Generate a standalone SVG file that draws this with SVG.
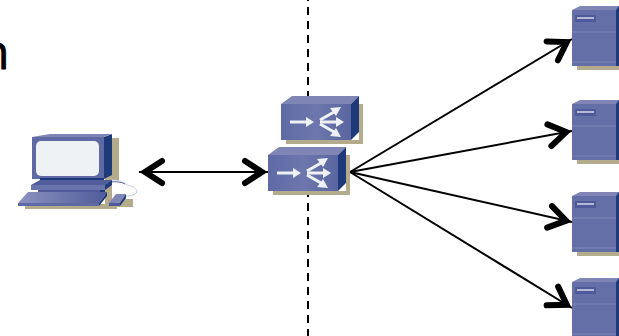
<svg xmlns="http://www.w3.org/2000/svg" width="619" height="336" viewBox="0 0 619 336">
<style>
.shadow{fill:#b3ab8c}
.top{fill:#7f86b5}
.side{fill:#1f3a78}
.front{fill:#646fa8}
.line{stroke:#000;stroke-width:2;fill:none}
.pale{fill:#eef2f5}
.ar{stroke:#eef2f5;stroke-width:3;fill:none}
text{font-family:"Open Sans","Liberation Sans",sans-serif;font-size:48px;fill:#000;stroke:#000;stroke-width:.8}
</style>
<defs>
<linearGradient id="gf" x1="0" y1="0" x2="1" y2="0"><stop offset="0" stop-color="#5f6aa5"/><stop offset=".5" stop-color="#6d77ad"/><stop offset="1" stop-color="#5a66a0"/></linearGradient>
<linearGradient id="gk" x1="0" y1="0" x2="1" y2="0"><stop offset="0" stop-color="#8c93c0"/><stop offset="1" stop-color="#4f5b99"/></linearGradient>
<marker id="head" markerUnits="userSpaceOnUse" markerWidth="40" markerHeight="40" refX="34" refY="20" orient="auto-start-reverse" viewBox="0 0 40 40">
<path d="M11 9L28 20L11 31" fill="none" stroke="#000" stroke-width="6" stroke-linecap="round" stroke-linejoin="miter"/>
</marker>
<g id="srv">
<path class="shadow" d="M5 60H47V64H5Z"/>
<path class="top" d="M0 4L8 0H47V4Z"/>
<path class="side" d="M44 4L47 0V60H44Z"/>
<rect class="front" x="0" y="4" width="44" height="56"/>
<path d="M0 26H44" stroke="#8088b8" stroke-width="1"/>
<path d="M0 56H44" stroke="#7d85b6" stroke-width="1"/>
<rect x="3" y="9" width="21" height="7" fill="#4f5b99"/>
<rect x="5" y="11" width="17" height="2" fill="#b4b9d8"/>
</g>
<g id="sw">
<path class="shadow" d="M5 44V48H82V8H78V44Z"/>
<path class="top" d="M0 8L11 0H78L70 8Z"/>
<path class="side" d="M70 8L78 0V36L70 44Z"/>
<rect x="0" y="8" width="70" height="36" fill="url(#gf)"/>
<path class="ar" d="M9 26H27"/>
<path d="M25 21L33 26L25 31Z" class="pale"/>
<path class="ar" d="M39 26H57"/>
<path d="M55 21L63 26L55 31Z" class="pale"/>
<path class="ar" d="M39 24L53 16"/>
<path d="M49 12L60 11L55 20Z" class="pale"/>
<path class="ar" d="M39 28L53 36"/>
<path d="M55 32L60 41L49 40Z" class="pale"/>
</g>
</defs>
<rect width="619" height="336" fill="#fff"/>
<text id="label" x="-20" y="69">n</text>
<path d="M308 0V336" stroke="#000" stroke-width="2" stroke-dasharray="8 6" stroke-dashoffset="7"/>
<g id="connectors">
<path class="line" d="M139 172H268" marker-start="url(#head)" marker-end="url(#head)"/>
<path class="line" d="M350 172L572 39" marker-end="url(#head)"/>
<path class="line" d="M350 172L572 131" marker-end="url(#head)"/>
<path class="line" d="M350 172L572 222" marker-end="url(#head)"/>
<path class="line" d="M350 172L572 308" marker-end="url(#head)"/>
</g>
<g id="pc">
<path class="shadow" d="M105 138H119V180H112V199H133V207H117V209H25V204H105Z"/>
<path d="M112 180Q122 180 127 185Q137 187 137 192Q134 197 122 196" fill="none" stroke="#c9cde3" stroke-width="1"/>
<path d="M110 182Q120 181 125 184" fill="none" stroke="#5f6aa5" stroke-width="1"/>
<path class="side" d="M104 137L112 134V175L104 179Z"/>
<path class="top" d="M32 137L50 134H112L104 137Z"/>
<rect x="32" y="137" width="72" height="42" fill="#5f6aa5"/>
<rect x="36" y="141" width="63" height="35" rx="5" fill="#eef2f5"/>
<path d="M40 178H104V181H40Z" class="side"/>
<path d="M31 185L40 180H112L105 185Z" fill="#525e9c"/>
<path d="M31 185H105V190H31Z" fill="#6a74ac"/>
<path d="M105 185L112 180V185L105 190Z" class="side"/>
<path d="M38 190H100V197H38Z" fill="#4f5b99"/>
<path d="M100 190L105 190V193L100 197Z" class="side"/>
<path d="M18 203L28 192H107L99 203Z" fill="url(#gk)"/>
<path d="M18 203H99V206H18Z" fill="#5f6aa5"/>
<path d="M99 203L107 192V196L99 206Z" class="side"/>
<path d="M109 203L116 194H126L120 203Z" fill="#7f86b5"/>
<path d="M109 203H120V206H109Z" fill="#4f5b99"/>
<path d="M120 203L126 194V198L120 206Z" class="side"/>
</g>
<use id="switch-top" href="#sw" x="281" y="96"/>
<use id="switch-bottom" href="#sw" x="268" y="147"/>
<use id="server-1" href="#srv" x="572" y="6"/>
<use id="server-2" href="#srv" x="572" y="100"/>
<use id="server-3" href="#srv" x="572" y="192"/>
<use id="server-4" href="#srv" x="572" y="278"/>
</svg>
